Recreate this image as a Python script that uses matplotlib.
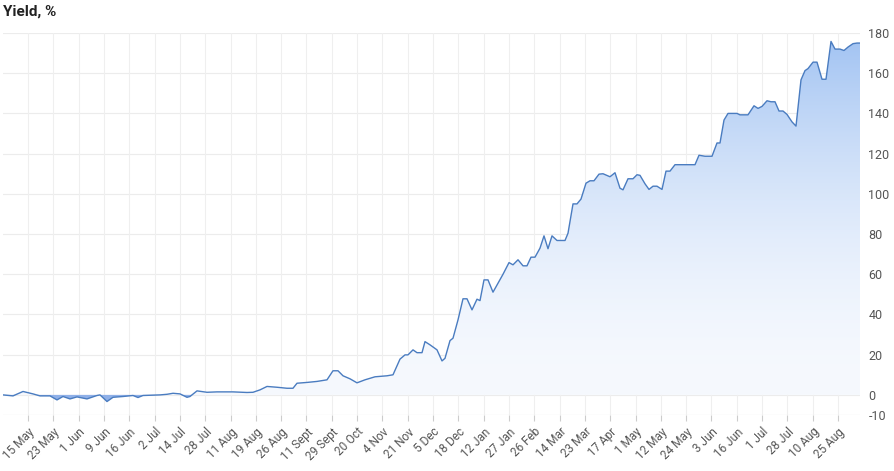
import numpy as np
import matplotlib
matplotlib.use("Agg")
import matplotlib.pyplot as plt
from matplotlib.path import Path
from matplotlib.patches import PathPatch

# observation index (trading-day position) and yield values, %
obs = [3,13,23,33,40,50,57,63,70,77,87,97,100,107,113,123,133,138,143,160,167,173,180,187,190,197,
       207,217,233,247,253,260,267,277,287,293,297,307,317,327,333,338,343,350,357,365,375,387,393,
       400,405,408,413,417,422,425,430,437,442,445,450,453,458,463,467,472,477,480,484,488,493,498,
       503,509,513,518,523,527,531,535,540,544,548,552,557,565,568,573,577,581,586,590,594,599,603,
       610,615,620,623,628,633,637,640,645,649,653,657,662,666,670,675,683,695,699,705,712,717,720,
       724,728,737,740,748,754,758,762,767,771,775,779,783,787,792,796,801,805,808,813,817,822,826,
       831,835,840,844,848,853,857,860]
yield_pct = [0,-0.5,1.7,0.5,-0.5,-0.5,-2.5,-0.8,-2,-1,-2,-0.3,0,-3.3,-1.2,-0.8,-0.3,-1.3,-0.3,0,0.3,0.8,
       0.5,-1.2,-0.8,2,1.3,1.5,1.5,1.2,1.3,2.5,4.2,3.8,3.3,3.3,5.8,6.2,6.7,7.5,12,12,9.5,8,6,7.5,9,9.5,10,
       17.8,19.9,19.9,22.4,21,21,26.5,24.9,22.4,16.9,18.2,27,28.2,37.3,47.8,47.8,42.3,47.6,46.9,57.2,57.2,
       51.1,55.6,60,65.8,64.7,67.2,64.2,64.2,68.5,68.5,73,79.1,72.7,79.1,76.8,76.8,80.4,95,95,97.4,105.3,
       106.5,106.5,109.8,110,108.5,110.5,102.8,102,107.5,107.5,109.5,109.2,105,102.2,103.8,103.8,102.2,
       111.3,111.3,114.5,114.5,114.5,119.2,118.7,118.7,125.3,125.3,136.7,140,140,139.3,139.3,143.8,142.5,
       143.5,146.3,145.8,145.8,141.2,141.2,139.5,135.8,133.7,156.7,161.3,162.3,165.5,165.5,157,157,175.8,
       172,172,171.3,173,174.7,175,175]
tick_labels = ["15 May","23 May","1 Jun","9 Jun","16 Jun","2 Jul","14 Jul","28 Jul","11 Aug","19 Aug",
               "26 Aug","11 Sept","29 Sept","20 Oct","4 Nov","21 Nov","5 Dec","18 Dec","12 Jan","27 Jan",
               "26 Feb","14 Mar","23 Mar","17 Apr","1 May","12 May","24 May","3 Jun","16 Jun","1 Jul",
               "28 Jul","10 Aug","25 Aug"]
y_ticks = [-10,0,20,40,60,80,100,120,140,160,180]

plt.rcParams['font.family'] = ['Roboto', 'DejaVu Sans']
x = np.array(obs, float); y = np.array(yield_pct, float)

fig = plt.figure(figsize=(8.94,4.71), dpi=100)
ax = fig.add_axes([3/894, 1-415/471, 857/894, 382/471])
ax.set_xlim(3, 860); ax.set_ylim(-10, 180)

# gradient fill for positive part
yp = np.clip(y, 0, None)
verts = np.column_stack([np.r_[x, x[-1], x[0]], np.r_[yp, 0, 0]])
patch = PathPatch(Path(verts), facecolor='none', edgecolor='none')
ax.add_patch(patch)
top = np.array([160,194,242])/255; bot = np.array([246,249,254])/255
t = (np.linspace(1, 0, 256) ** 1.8)[:, None]
grad = (bot + (top-bot)*t)[:, None, :]
im = ax.imshow(grad, extent=[3,860,0,180], aspect='auto', origin='upper', zorder=1)
im.set_clip_path(patch)
ax.fill_between(x, y, 0, where=y<0, interpolate=True, color='#8fb0e8', lw=0, zorder=1)
ax.plot(x, y, color='#4a7cc0', lw=1, zorder=3)

for v in y_ticks:
    ax.axhline(v, color='#ececec' if v!=-10 else '#cccccc', lw=0.8, zorder=0)
ticks = np.linspace(28, 838, len(tick_labels))
for tx in ticks:
    ax.axvline(tx, color='#efefef', lw=0.8, zorder=0)
ax.set_xticks(ticks)
ax.set_xticklabels(tick_labels, rotation=45, ha='right', rotation_mode='anchor', fontsize=8.5, color='#555555')
ax.yaxis.tick_right()
ax.set_yticks(y_ticks)
ax.set_yticklabels([str(v) for v in y_ticks], fontsize=9, color='#555555')
ax.tick_params(axis='y', length=0, pad=6)
ax.tick_params(axis='x', length=4, color='#cccccc')
for s in ax.spines.values():
    s.set_visible(False)
fig.text(0.003, 1-12/471, "Yield, %", fontsize=11, fontweight='bold', va='center', ha='left', color='#222222')
fig.savefig("out.png", dpi=100)
